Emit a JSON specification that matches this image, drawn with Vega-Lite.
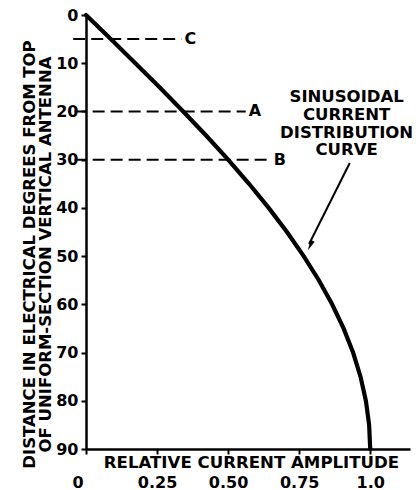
{
  "$schema": "https://vega.github.io/schema/vega-lite/v6.json",
  "width": 324,
  "height": 434,
  "autosize": {"type": "none"},
  "padding": {"left": 86, "top": 15, "right": 10, "bottom": 41},
  "background": "white",
  "config": {
    "view": {"stroke": null},
    "font": "DejaVu Sans",
    "axis": {
      "grid": false,
      "domainColor": "black",
      "domainWidth": 2.5,
      "tickColor": "black",
      "tickWidth": 2,
      "tickSize": 5,
      "labelColor": "black",
      "titleColor": "black",
      "labelFont": "DejaVu Sans",
      "titleFont": "DejaVu Sans",
      "labelFontWeight": "bold",
      "titleFontWeight": "bold",
      "labelFontSize": 16,
      "titleFontSize": 16.5,
      "titleLimit": 1000
    }
  },
  "layer": [
    {
      "data": {"values": [
        {"y": 0, "x": 0}, {"y": 5, "x": 0.0872}, {"y": 10, "x": 0.1736}, {"y": 15, "x": 0.2588},
        {"y": 20, "x": 0.342}, {"y": 25, "x": 0.4226}, {"y": 30, "x": 0.5}, {"y": 35, "x": 0.5736},
        {"y": 40, "x": 0.6428}, {"y": 45, "x": 0.7071}, {"y": 50, "x": 0.766}, {"y": 55, "x": 0.8192},
        {"y": 60, "x": 0.866}, {"y": 65, "x": 0.9063}, {"y": 70, "x": 0.9397}, {"y": 75, "x": 0.9659},
        {"y": 80, "x": 0.9848}, {"y": 85, "x": 0.9962}, {"y": 90, "x": 1.0}
      ]},
      "mark": {"type": "line", "color": "black", "strokeWidth": 4.2, "strokeCap": "round"},
      "encoding": {
        "x": {
          "field": "x", "type": "quantitative",
          "scale": {"domain": [0, 1.14], "nice": false, "zero": false},
          "axis": {
            "values": [0, 0.25, 0.5, 0.75, 1.0],
            "labelExpr": "datum.value == 0 ? '0' : datum.value == 1 ? '1.0' : format(datum.value, '.2f')",
            "labelPadding": 20,
            "labelOffset": {"condition": {"test": "datum.value == 0", "value": -14}, "value": 0},
            "title": "RELATIVE CURRENT AMPLITUDE",
            "titleY": 13,
            "titleX": 165,
            "titleBaseline": "middle",
            "titleFontSize": 16.6
          }
        },
        "y": {
          "field": "y", "type": "quantitative",
          "scale": {"domain": [0, 90], "reverse": true, "nice": false, "zero": false},
          "axis": {
            "values": [0, 10, 20, 30, 40, 50, 60, 70, 80, 90],
            "labelPadding": 3,
            "title": ["DISTANCE IN ELECTRICAL DEGREES FROM TOP", "OF UNIFORM-SECTION VERTICAL ANTENNA"],
            "titleX": -65,
            "titleY": 239,
            "titleAngle": -90,
            "titleBaseline": "top",
            "titleAlign": "center",
            "titleLineHeight": 16.5
          }
        },
        "order": {"field": "y", "type": "quantitative"}
      }
    },
    {
      "data": {"values": [
        {"y": 5, "x": -0.045, "x2": 0.336, "label": "C"},
        {"y": 20, "x": -0.04, "x2": 0.562, "label": "A"},
        {"y": 30, "x": -0.04, "x2": 0.65, "label": "B"}
      ]},
      "layer": [
        {
          "mark": {"type": "rule", "color": "black", "strokeWidth": 2, "strokeDash": [12, 6]},
          "encoding": {
            "x": {"field": "x", "type": "quantitative"},
            "x2": {"field": "x2"},
            "y": {"field": "y", "type": "quantitative"}
          }
        },
        {
          "mark": {"type": "text", "align": "left", "baseline": "middle", "dx": 3, "fontSize": 16, "fontWeight": "bold", "color": "black"},
          "encoding": {
            "x": {"field": "x2", "type": "quantitative"},
            "y": {"field": "y", "type": "quantitative"},
            "text": {"field": "label"}
          }
        }
      ]
    },
    {
      "data": {"values": [{"x": 0.917, "y": 17.0, "label": ["SINUSOIDAL", "CURRENT", "DISTRIBUTION", "CURVE"]}]},
      "mark": {"type": "text", "align": "center", "baseline": "middle", "fontSize": 16.5, "fontWeight": "bold", "lineHeight": 17.8, "color": "black"},
      "encoding": {
        "x": {"field": "x", "type": "quantitative"},
        "y": {"field": "y", "type": "quantitative"},
        "text": {"field": "label"}
      }
    },
    {
      "data": {"values": [{"x": 0.928, "y": 30.7, "x2": 0.785, "y2": 47.5}]},
      "mark": {"type": "rule", "color": "black", "strokeWidth": 2},
      "encoding": {
        "x": {"field": "x", "type": "quantitative"},
        "y": {"field": "y", "type": "quantitative"},
        "x2": {"field": "x2"},
        "y2": {"field": "y2"}
      }
    },
    {
      "data": {"values": [{"x": 0.789, "y": 47.8}]},
      "mark": {"type": "point", "shape": "M0,-1L0.45,1L-0.45,1Z", "filled": true, "color": "black", "opacity": 1, "size": 110, "angle": 206},
      "encoding": {
        "x": {"field": "x", "type": "quantitative"},
        "y": {"field": "y", "type": "quantitative"}
      }
    }
  ]
}
